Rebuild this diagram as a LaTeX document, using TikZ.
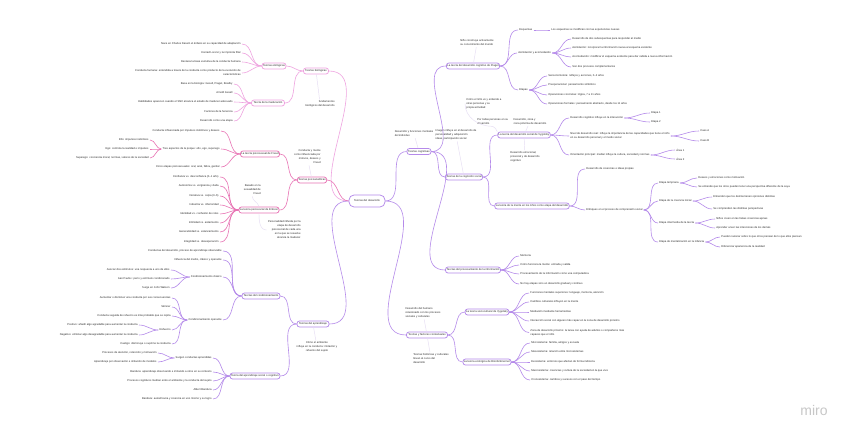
\documentclass[tikz,border=0pt]{standalone}
\usepackage{fontspec}
\setmainfont{Liberation Sans}
\usepackage{tikz}
\usetikzlibrary{positioning,calc}

\definecolor{biopink}{HTML}{EFA3E0}
\definecolor{psypink}{HTML}{E873B4}
\definecolor{apurple}{HTML}{B58AEA}
\definecolor{notelink}{HTML}{E6DDF3}
\definecolor{inktext}{HTML}{2B2B2B}

\tikzset{
  topic/.style={draw,rounded corners=2.5pt,line width=.75pt,fill=white,inner sep=1pt,minimum height=6pt,align=center},
  leafl/.style={anchor=east,align=right,inner sep=1.2pt},
  leafr/.style={anchor=west,align=left,inner sep=1.2pt},
  note/.style={align=left,inner sep=1pt},
  lnk/.style={line width=.6pt},
  notelnk/.style={draw=notelink,line width=.45pt}
}

\begin{document}
\begin{tikzpicture}
  [x=1pt,y=-1pt,every node/.style={font=\fontsize{2.7}{4}\selectfont,text=inktext}]
  \fill[white] (0,0) rectangle (848,434);
  \useasboundingbox (0,0) rectangle (848,434);

  % centre
  \node[topic,draw=apurple,minimum width=36pt,minimum height=12pt,rounded corners=5pt] (root) at (367,201) {Teorías del desarrollo};

  % biologicas
  \node[topic,draw=biopink,minimum width=25pt] (bio) at (316,71) {Teorías biológicas};
  \node[leafl,align=right] (bionote) at (336,104) {fundamentos\\biológicos del desarrollo};
  \node[topic,draw=biopink,minimum width=24pt] (eto) at (274,66) {Teorías etológicas};
  \node[leafl] (eto1) at (242,44) {Nace en Charles Darwin el énfasis en su capacidad de adaptación};
  \node[leafl] (eto2) at (242,53) {Konrad Lorenz y la impronta filial};
  \node[leafl] (eto3) at (242,62) {Destaca la base evolutiva de la conducta humana};
  \node[leafl] (eto4) at (242,73) {Conducta humana: entendida a través de la conducta como producto de la evolución de\\características};
  \node[topic,draw=biopink,minimum width=33pt] (mad) at (268,103) {Teoría de la maduración};
  \node[leafl] (mad1) at (234,84) {Basa en la biología: Gesell, Piaget, Bowlby};
  \node[leafl] (mad2) at (234,93) {Arnold Gesell};
  \node[leafl] (mad3) at (234,102) {Habilidades aparecen cuando el SNC alcanza el estado de madurez adecuado};
  \node[leafl] (mad4) at (234,112) {Factores de la herencia};
  \node[leafl] (mad5) at (234,121) {Desarrollo como una etapa};

  % psicoanaliticas
  \node[topic,draw=psypink,minimum width=29pt] (psi) at (312,180) {Teorías psicoanalíticas};
  \node[leafl] (psinote) at (322,157) {Conducta y mente\\como influenciada por\\motivos, deseos y\\Freud};
  \node[topic,draw=psypink,minimum width=38pt] (fre) at (260,154) {La teoría psicosexual de Freud};
  \node[leafl] (fre1) at (221,131) {Conducta influenciada por impulsos instintivos y deseos};
  \node[leafl] (fre2) at (221,149) {Tres aspectos de la psique: ello, ego, superego};
  \node[leafl] (fre21) at (150,140) {Ello: impulsos instintivos};
  \node[leafl] (fre22) at (150,149) {Ego: controla la realidad e impulsos};
  \node[leafl] (fre23) at (150,158) {Superego: conciencia moral, normas, valores de la sociedad};
  \node[leafl] (fre3) at (221,167) {Cinco etapas psicosexuales: oral, anal, fálica, genital};
  \node[topic,draw=psypink,minimum width=38pt] (eri) at (259,210) {La teoría psicosocial de Erikson};
  \node[leafl] (erinote1) at (262,190) {Basado en la\\sexualidad de\\Freud};
  \node[leafl] (erinote2) at (302,230) {Personalidad influida por la\\etapa de desarrollo\\psicosocial de cada una\\en la que se resuelve\\alcanza la madurez};
  \node[leafl] (eri1) at (220,177) {Confianza vs. desconfianza (0–1 año)};
  \node[leafl] (eri2) at (220,186) {Autonomía vs. vergüenza y duda};
  \node[leafl] (eri3) at (220,196) {Iniciativa vs. culpa (3–6)};
  \node[leafl] (eri4) at (220,205) {Industria vs. inferioridad};
  \node[leafl] (eri5) at (220,214) {Identidad vs. confusión de roles};
  \node[leafl] (eri6) at (220,223) {Intimidad vs. aislamiento};
  \node[leafl] (eri7) at (220,232) {Generatividad vs. estancamiento};
  \node[leafl] (eri8) at (220,242) {Integridad vs. desesperación};

  % aprendizaje
  \node[topic,draw=apurple,minimum width=32pt] (apr) at (313,324) {Teorías del aprendizaje};
  \node[align=center,inner sep=1pt] (aprnote) at (317,347) {Cómo el ambiente\\influye en la conducta: imitación y\\refuerzo del sujeto};
  \node[topic,draw=apurple,minimum width=38pt] (con) at (261,296) {Teorías del condicionamiento};
  \node[leafl] (con1) at (223,251) {Conductas del desarrollo, proceso de aprendizaje observable};
  \node[leafl] (con2) at (223,260) {Influencia del medio, clásico y operante};
  \node[leafl] (con3) at (223,277) {Condicionamiento clásico};
  \node[leafl] (con31) at (171,270) {Asociar dos estímulos: una respuesta a uno de ellos};
  \node[leafl] (con32) at (171,279) {Ivan Pavlov: perro y estímulo condicionado};
  \node[leafl] (con33) at (171,288) {Surge en John Watson};
  \node[leafl] (con4) at (223,320) {Condicionamiento operante};
  \node[leafl] (con41) at (172,298) {Aumentar o disminuir una conducta por sus consecuencias};
  \node[leafl] (con42) at (172,307) {Skinner};
  \node[leafl] (con43) at (172,316) {Conducta seguida de refuerzo es más probable que se repita};
  \node[leafl] (con44) at (172,330) {Refuerzo};
  \node[leafl] (con441) at (139,325) {Positivo: añadir algo agradable para aumentar la conducta};
  \node[leafl] (con442) at (139,335) {Negativo: eliminar algo desagradable para aumentar la conducta};
  \node[leafl] (con45) at (172,344) {Castigo: disminuye o suprime la conducta};
  \node[topic,draw=apurple,minimum width=49pt] (soc) at (255,376) {Teoría del aprendizaje social o cognitivo};
  \node[leafl] (soc1) at (213,358) {Surgen conductas aprendidas};
  \node[leafl] (soc11) at (158,353) {Procesos de atención, retención y motivación};
  \node[leafl] (soc12) at (158,362) {Aprendizaje por observación e imitación de modelos};
  \node[leafl] (soc2) at (213,372) {Bandura: aprendizaje observando e imitando a otros en su contexto};
  \node[leafl] (soc3) at (213,381) {Procesos cognitivos median entre el ambiente y la conducta del sujeto};
  \node[leafl] (soc4) at (213,390) {Albert Bandura};
  \node[leafl] (soc5) at (213,399) {Bandura: autoeficacia y creencia en uno mismo y su logro};

  % cognitivas
  \node[topic,draw=apurple,minimum width=24pt] (cog) at (419,151.5) {Teorías cognitivas};
  \node[note] (cognote) at (414,134) {Desarrollo y funciones mentales\\del individuo};
  \node[topic,draw=apurple,minimum width=53pt] (pia) at (473,66) {La teoría del desarrollo cognitivo de Piaget};
  \node[note] (pianote) at (477,43) {Niño construye activamente\\su conocimiento del mundo};
  \node[leafr] (pia1) at (518,30) {Esquemas};
  \node[leafr] (pia11) at (550,30) {Los esquemas se modifican con las experiencias nuevas};
  \node[leafr] (pia2) at (517,53) {Asimilación y acomodación};
  \node[leafr] (pia21) at (571,39) {Desarrollo de dos subesquemas para responder al medio};
  \node[leafr] (pia22) at (571,48) {Asimilación: incorporar la información nueva al esquema existente};
  \node[leafr] (pia23) at (571,57) {Acomodación: modificar el esquema existente para dar cabida a nueva información};
  \node[leafr] (pia24) at (571,67) {Son dos procesos complementarios};
  \node[leafr] (pia3) at (518,90) {Etapas};
  \node[leafr] (pia31) at (547,76) {Sensoriomotora: reflejos y acciones, 0–2 años};
  \node[leafr] (pia32) at (547,85) {Preoperacional: pensamiento simbólico};
  \node[leafr] (pia33) at (547,95) {Operaciones concretas: lógica, 7 a 11 años};
  \node[leafr] (pia34) at (547,104) {Operaciones formales: pensamiento abstracto, desde los 11 años};
  \node[topic,draw=apurple,minimum width=34pt] (cgs) at (464,177) {Teorías de la cognición social};
  \node[note] (cgsnote) at (456,135) {Imagen influye en el desarrollo de\\personalidad y adquisición\\ideas, participación social};
  \node[leafr,align=left] (cgsnote1) at (465,103.5) {Cómo el niño ve y entiende a\\otras personas y su\\propia actividad};
  \node[leafr,align=left] (cgsnote2) at (476,122) {Por todas personas en su\\desarrollo};
  \node[topic,draw=apurple,minimum width=52pt] (vyg) at (524,135) {La teoría del desarrollo social de Vygotsky};
  \node[note] (vygnote1) at (530,121.5) {Desarrollo, zona y\\zona próxima de desarrollo};
  \node[note] (vygnote2) at (525,156.5) {Desarrollo emocional,\\prosocial y de desarrollo\\cognitivo};
  \node[leafr] (vyg1) at (569,118) {Desarrollo cognitivo influye en la interacción};
  \node[leafr] (vyg11) at (650,113) {Etapa 1};
  \node[leafr] (vyg12) at (650,122) {Etapa 2};
  \node[leafr] (vyg2) at (569,136) {Nivel de desarrollo real: influye la importancia de las capacidades que tiene el niño\\en su desarrollo personal y el medio social};
  \node[leafr] (vyg21) at (699,131) {Caso A};
  \node[leafr] (vyg22) at (699,141) {Caso B};
  \node[leafr] (vyg3) at (569,155) {Orientación principal: mediar influye la cultura, sociedad y normas};
  \node[leafr] (vyg31) at (675,150) {Área 1};
  \node[leafr] (vyg32) at (675,159) {Área 2};
  \node[topic,draw=apurple,minimum width=68pt] (men) at (532,206) {La teoría de la mente en los niños como etapa del desarrollo};
  \node[leafr] (men1) at (585,169) {Desarrollo de creencias e ideas propias};
  \node[leafr] (men2) at (585,210) {Enfoques en el proceso de comprensión social};
  \node[leafr] (men21) at (658,183) {Etapa temprana};
  \node[leafr] (men211) at (697,178) {Deseos y emociones como motivación};
  \node[leafr] (men212) at (697,187) {Se entiende que los otros pueden tener una perspectiva diferente de la suya};
  \node[leafr] (men22) at (658,201) {Etapa de la creencia inicial};
  \node[leafr] (men221) at (712,197) {Entienden que los demás tienen opiniones distintas};
  \node[leafr] (men222) at (712,209) {Se comprenden las distintas perspectivas};
  \node[leafr] (men23) at (658,223) {Etapa intermedia de la teoría};
  \node[leafr] (men231) at (715,219) {Niños creen en las falsas creencias ajenas};
  \node[leafr] (men232) at (715,228) {Aprender a leer las intenciones de los demás};
  \node[leafr] (men24) at (658,242) {Etapa de mentalización en la infancia};
  \node[leafr] (men241) at (720,237) {Pueden razonar sobre lo que otros piensan de lo que ellos piensan};
  \node[leafr] (men242) at (720,247) {Diferenciar apariencia de la realidad};
  \node[topic,draw=apurple,minimum width=55pt] (inf) at (473,270) {Teorías del procesamiento de la información};
  \node[leafr] (inf1) at (519,256) {Memoria};
  \node[leafr] (inf2) at (519,265) {Cómo funciona la mente: entrada y salida};
  \node[leafr] (inf3) at (519,274) {Procesamiento de la información como una computadora};
  \node[leafr] (inf4) at (519,284) {No hay etapas sino un desarrollo gradual y continuo};

  % contextuales
  \node[topic,draw=apurple,minimum width=41pt] (ctx) at (427,335) {Teorías y factores contextuales};
  \node[note] (ctxnote1) at (423,313) {Desarrollo del humano\\relacionado con los procesos\\sociales y culturales};
  \node[note] (ctxnote2) at (431,358.5) {Teorías históricas y culturales\\llevan al curso del\\desarrollo};
  \node[topic,draw=apurple,minimum width=43pt] (scu) at (487,312) {La teoría sociocultural de Vygotsky};
  \node[leafr] (scu1) at (529,293) {Funciones mentales superiores: lenguaje, memoria, atención};
  \node[leafr] (scu2) at (529,302) {Cambios culturales influyen en la mente};
  \node[leafr] (scu3) at (529,312) {Mediación mediante herramientas};
  \node[leafr] (scu4) at (529,321) {Interacción social con alguien más capaz en la zona de desarrollo próximo};
  \node[leafr] (scu5) at (529,332.5) {Zona de desarrollo próximo: la tarea con ayuda de adultos o compañeros más\\capaces que el niño};
  \node[topic,draw=apurple,minimum width=43pt] (eco) at (487,362) {La teoría ecológica de Bronfenbrenner};
  \node[leafr] (eco1) at (530,343) {Microsistema: familia, amigos y escuela};
  \node[leafr] (eco2) at (530,352) {Mesosistema: relación entre microsistemas};
  \node[leafr] (eco3) at (530,362) {Exosistema: entornos que afectan de forma indirecta};
  \node[leafr] (eco4) at (530,371) {Macrosistema: creencias y cultura de la sociedad en la que vive};
  \node[leafr] (eco5) at (530,380) {Cronosistema: cambios y sucesos con el paso del tiempo};

  \node[inner sep=0pt,font=\fontsize{14}{14}\selectfont,text=black!22] (logo) at (814,410) {miro};

  % lineas a la izquierda
  \foreach \from/\to in {root/bio, bio/eto, bio/mad, eto/eto1, eto/eto2, eto/eto3, eto/eto4,
      mad/mad1, mad/mad2, mad/mad3, mad/mad4, mad/mad5}
    \draw[lnk,biopink] (\from.west) to[out=180,in=0] (\to.east);
  \foreach \from/\to in {root/psi, psi/fre, psi/eri, fre/fre1, fre/fre2, fre/fre3, fre2/fre21, fre2/fre22, fre2/fre23,
      eri/eri1, eri/eri2, eri/eri3, eri/eri4, eri/eri5, eri/eri6, eri/eri7, eri/eri8}
    \draw[lnk,psypink] (\from.west) to[out=180,in=0] (\to.east);
  \foreach \from/\to in {root/apr, apr/con, apr/soc, con/con1, con/con2, con/con3, con/con4,
      con3/con31, con3/con32, con3/con33, con4/con41, con4/con42, con4/con43, con4/con44, con4/con45,
      con44/con441, con44/con442, soc/soc1, soc/soc2, soc/soc3, soc/soc4, soc/soc5, soc1/soc11, soc1/soc12}
    \draw[lnk,apurple] (\from.west) to[out=180,in=0] (\to.east);

  % lineas a la derecha
  \foreach \from/\to in {root/cog, root/ctx, cog/pia, cog/cgs, cog/inf, pia/pia1, pia/pia2, pia/pia3, pia1/pia11,
      pia2/pia21, pia2/pia22, pia2/pia23, pia2/pia24, pia3/pia31, pia3/pia32, pia3/pia33, pia3/pia34,
      cgs/vyg, cgs/men, vyg/vyg1, vyg/vyg2, vyg/vyg3, vyg1/vyg11, vyg1/vyg12, vyg2/vyg21, vyg2/vyg22,
      vyg3/vyg31, vyg3/vyg32, men/men1, men/men2, men2/men21, men2/men22, men2/men23, men2/men24,
      men21/men211, men21/men212, men22/men221, men22/men222, men23/men231, men23/men232, men24/men241, men24/men242,
      inf/inf1, inf/inf2, inf/inf3, inf/inf4, ctx/scu, ctx/eco, scu/scu1, scu/scu2, scu/scu3, scu/scu4, scu/scu5,
      eco/eco1, eco/eco2, eco/eco3, eco/eco4, eco/eco5}
    \draw[lnk,apurple] (\from.east) to[out=0,in=180] (\to.west);

  % notas
  \foreach \from/\to in {bio/bionote, psi/psinote, apr/aprnote, cog/cognote, pia/pianote, cgs/cgsnote,
      vyg/vygnote1, vyg/vygnote2, ctx/ctxnote1, ctx/ctxnote2}
    \draw[notelnk] (\from) -- (\to);
  \draw[notelnk] (eri.north) to[out=100,in=-90] (erinote1.south);
  \draw[notelnk] (eri.south) to[out=-90,in=180] (erinote2.west);
  \draw[notelnk] (cgsnote1.west) to[out=-90,in=180] (cgsnote2.south);
  \draw[notelnk] (vyg.north west) to[out=135,in=0] (cgsnote2.south);
\end{tikzpicture}
\end{document}
